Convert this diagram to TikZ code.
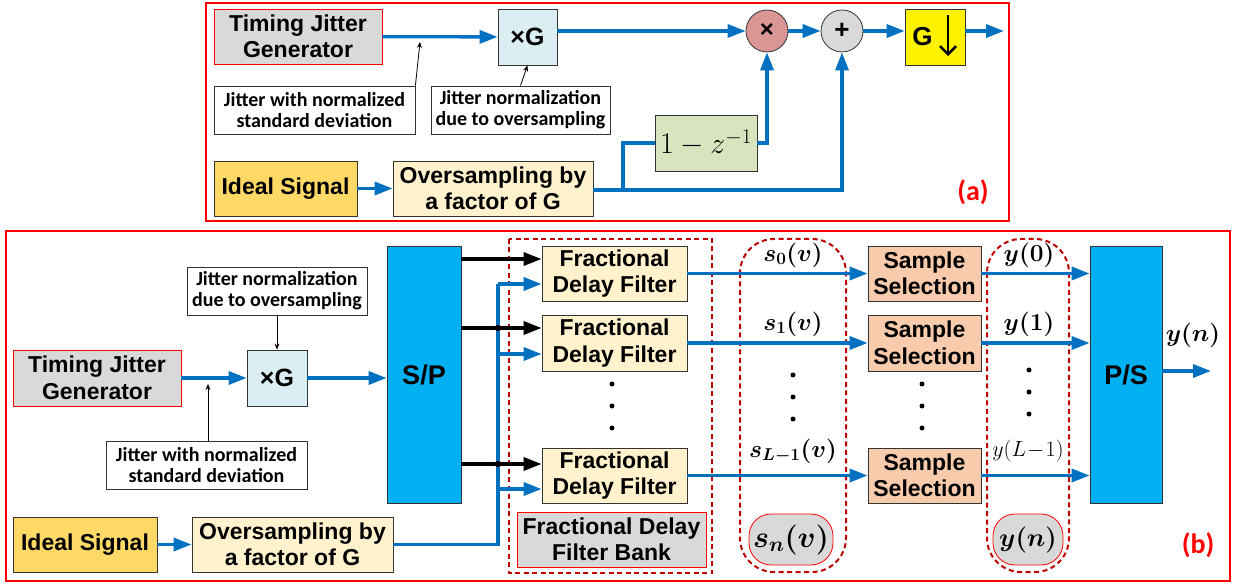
\RequirePackage{fix-cm}
\documentclass[tikz,border=0pt]{standalone}
\usepackage{amsmath,bm}
\usepackage{fontspec}
\setmainfont{Liberation Sans}
\newfontfamily\calibri{Carlito}
\usetikzlibrary{arrows.meta,calc}
\definecolor{lblue}{HTML}{0070C0}
\definecolor{cyanb}{HTML}{00B0F0}
\definecolor{dred}{HTML}{C00000}
\definecolor{gray1}{HTML}{D9D9D9}
\definecolor{xgfill}{HTML}{DAEEF3}
\definecolor{gold}{HTML}{FFD966}
\definecolor{cream}{HTML}{FFF2CC}
\definecolor{zfill}{HTML}{D7E4BD}
\definecolor{rose}{HTML}{D99694}
\definecolor{peach}{HTML}{F8CBAD}
\begin{document}
\begin{tikzpicture}[x=1pt,y=-1pt,
  blk/.style={draw=black!80, line width=0.8pt, inner sep=0pt, align=center,
    font=\bfseries\fontsize{23}{26.5}\selectfont},
  lab/.style={draw=black!80, line width=0.8pt, fill=white, inner sep=0pt, align=center,
    font=\calibri\bfseries\fontsize{20}{21}\selectfont},
  bline/.style={draw=lblue, line width=3.3pt},
  barrow/.style={draw=lblue, line width=3.3pt, -{Triangle[length=18pt,width=13pt]}},
  karrow/.style={draw=black, line width=3.3pt, -{Triangle[length=18pt,width=13pt]}},
  tarrow/.style={draw=black, line width=0.8pt, -{Stealth[length=6pt,width=5pt]}},
  frame/.style={draw=red, line width=2.5pt},
  dbox/.style={draw=dred, line width=2pt, dash pattern=on 5pt off 3.5pt},
  mlab/.style={font=\fontsize{24.5}{26}\selectfont, inner sep=0pt},
  dots/.style={fill=black, circle, inner sep=0pt, minimum size=5pt}
]
\useasboundingbox (0,0) rectangle (1235,585);

% ================= panel (a) =================
\draw[frame] (206,3) rectangle (1009,221);
\node[blk, fill=gray1, draw=red, minimum width=168pt, minimum height=55pt] (tjgA) at (298,36.5) {Timing Jitter\\Generator};
\node[blk, fill=xgfill, minimum width=59pt, minimum height=56pt, font=\bfseries\fontsize{25}{28}\selectfont] (xgA) at (527.5,37) {×G};
\node[lab, minimum width=201pt, minimum height=48pt] (lab1A) at (314.5,110) {Jitter with normalized\\standard deviation};
\node[lab, minimum width=179pt, minimum height=48pt] (lab2A) at (520.5,110) {Jitter normalization\\due to oversampling};
\node[blk, fill=gold, minimum width=143pt, minimum height=55pt] (isA) at (285.5,188.5) {Ideal Signal};
\node[blk, fill=cream, minimum width=200pt, minimum height=55pt] (osA) at (493,188.5) {Oversampling by\\a factor of G};
\node[blk, circle, fill=rose, minimum size=42pt, font=\bfseries\fontsize{24}{26}\selectfont] (mulA) at (767,31) {×};
\node[blk, circle, fill=gray1, minimum size=42pt, font=\bfseries\fontsize{26}{28}\selectfont] (addA) at (842,31) {+};
\node[blk, fill=yellow, minimum width=60pt, minimum height=56pt, text width=54pt, align=left, font=\bfseries\fontsize{26}{28}\selectfont] (dsA) at (935,37) {\,G};
\draw[line width=2.6pt, -{Straight Barb[length=8pt,width=16pt]}] (948,15) -- (948,56);
\node[blk, fill=zfill, minimum width=102pt, minimum height=56pt, font=\fontsize{30}{32}\selectfont] (zA) at (706,143) {$1-z^{-1}$};
\node[font=\calibri\bfseries\fontsize{28}{30}\selectfont, text=red] (la) at (973,192) {(a)};
\coordinate (outA) at (1004,31);
\coordinate (brA) at (623,190);
\coordinate (pt1) at (420,42);

\draw[barrow] (tjgA) -- (xgA);
\draw[barrow] (xgA.east |- mulA) -- (mulA.west);
\draw[barrow] (mulA) -- (addA);
\draw[barrow] (addA) -- (dsA.west |- addA);
\draw[barrow] (dsA.east |- addA) -- (outA);
\draw[barrow] (isA) -- (osA);
\draw[barrow] (osA.east |- brA) -| (addA.south);
\draw[bline] (brA) |- (zA.west);
\draw[barrow] (zA.east) -| (mulA.south);
\draw[tarrow] (lab1A.north east) -- (pt1);
\draw[tarrow] (lab2A.north) -- (xgA.south);

% ================= panel (b) =================
\draw[frame] (6,231) rectangle (1230,581);
\node[lab, minimum width=180pt, minimum height=48pt] (labN) at (277,291) {Jitter normalization\\due to oversampling};
\node[blk, fill=gray1, draw=red, minimum width=168pt, minimum height=56pt] (tjgB) at (97,378) {Timing Jitter\\Generator};
\node[blk, fill=xgfill, minimum width=60pt, minimum height=56pt, font=\bfseries\fontsize{25}{28}\selectfont] (xgB) at (277,378) {×G};
\node[lab, minimum width=201pt, minimum height=48pt] (labJ) at (206.5,465) {Jitter with normalized\\standard deviation};
\node[blk, fill=gold, minimum width=144pt, minimum height=55pt] (isB) at (85,544.5) {Ideal Signal};
\node[blk, fill=cream, minimum width=201pt, minimum height=55pt] (osB) at (292.5,544.5) {Oversampling by\\a factor of G};
\node[blk, fill=cyanb, minimum width=74pt, minimum height=257pt, font=\bfseries\fontsize{27}{30}\selectfont] (sp) at (424,374.5) {S/P};

\draw[dbox] (509,239) rectangle (712,573);
\node[blk, fill=cream, minimum width=145pt, minimum height=55pt] (fdf1) at (614.5,273.5) {Fractional\\Delay Filter};
\node[blk, fill=cream, minimum width=145pt, minimum height=56pt] (fdf2) at (614.5,343) {Fractional\\Delay Filter};
\node[blk, fill=cream, minimum width=145pt, minimum height=55pt] (fdf3) at (614.5,475.5) {Fractional\\Delay Filter};
\node[blk, fill=gray1, draw=red, minimum width=189pt, minimum height=55pt] (bank) at (611.5,539.5) {Fractional Delay\\Filter Bank};
\node[dots] (d1) at (612,384) {};
\node[dots] (d2) at (612,406) {};
\node[dots] (d3) at (612,428) {};

\draw[dbox, rounded corners=34pt] (740,239) rectangle (846,572);
\node[mlab] (s0) at (793,255) {$\bm{s_0(v)}$};
\node[mlab] (s1) at (793,324) {$\bm{s_1(v)}$};
\node[dots] (e1) at (793,375) {};
\node[dots] (e2) at (793,397) {};
\node[dots] (e3) at (793,419) {};
\node[mlab] (sL) at (793,451) {$\bm{s_{L-1}(v)}$};
\node[draw=red, line width=0.8pt, fill=gray1, rounded corners=22pt, minimum width=84pt, minimum height=51pt, inner sep=0pt, font=\fontsize{30}{32}\selectfont] (sn) at (791,539.5) {$\bm{s_n(v)}$};

\node[blk, fill=peach, minimum width=113pt, minimum height=55pt] (ss1) at (924.5,273.5) {Sample\\Selection};
\node[blk, fill=peach, minimum width=113pt, minimum height=56pt] (ss2) at (924.5,343) {Sample\\Selection};
\node[blk, fill=peach, minimum width=113pt, minimum height=55pt] (ss3) at (924.5,475.5) {Sample\\Selection};
\node[dots] (f1) at (922,384) {};
\node[dots] (f2) at (922,406) {};
\node[dots] (f3) at (922,428) {};

\draw[dbox, rounded corners=34pt] (987,239) rectangle (1069,572);
\node[mlab] (y0) at (1029,255) {$\bm{y(0)}$};
\node[mlab] (y1) at (1029,324) {$\bm{y(1)}$};
\node[dots] (g1) at (1029,370) {};
\node[dots] (g2) at (1029,392) {};
\node[dots] (g3) at (1029,414) {};
\node[mlab, font=\fontsize{22}{24}\selectfont] (yL) at (1028,451) {$y(L\!-\!1)$};
\node[draw=red, line width=0.8pt, fill=gray1, rounded corners=22pt, minimum width=70pt, minimum height=51pt, inner sep=0pt, font=\fontsize{26}{28}\selectfont] (ynb) at (1028,539.5) {$\bm{y(n)}$};

\node[blk, fill=cyanb, minimum width=72pt, minimum height=257pt, font=\bfseries\fontsize{27}{30}\selectfont] (ps) at (1126,374.5) {P/S};
\node[mlab] (yout) at (1193,335) {$\bm{y(n)}$};
\node[font=\calibri\bfseries\fontsize{28}{30}\selectfont, text=red] (lb) at (1198,545) {(b)};

\coordinate (vb0) at (498,544.5);
\coordinate (vb1) at (498,284);
\coordinate (vb2) at (498,354);
\coordinate (vb3) at (498,489);
\coordinate (kb1) at (461,259);
\coordinate (kb2) at (461,328);
\coordinate (kb3) at (461,464);
\coordinate (outB) at (1211,371);
\coordinate (ptJ) at (208,384);

\draw[barrow] (tjgB) -- (xgB);
\draw[barrow] (xgB) -- (sp.west |- xgB);
\draw[tarrow] (labN.south -| xgB) -- (xgB.north);
\draw[tarrow] (labJ.north -| ptJ) -- (ptJ);
\draw[barrow] (isB) -- (osB);
\draw[bline] (osB.east) -- (vb0) -- (vb1);
\draw[barrow] (vb1) -- (fdf1.west |- vb1);
\draw[barrow] (vb2) -- (fdf2.west |- vb2);
\draw[barrow] (vb3) -- (fdf3.west |- vb3);
\draw[karrow] (kb1) -- (fdf1.west |- kb1);
\draw[karrow] (kb2) -- (fdf2.west |- kb2);
\draw[karrow] (kb3) -- (fdf3.west |- kb3);
\fill (vb0 |- kb2) circle (3.2pt);
\fill (vb0 |- kb3) circle (3.2pt);
\draw[barrow] (fdf1) -- (ss1);
\draw[barrow] (fdf2) -- (ss2);
\draw[barrow] (fdf3) -- (ss3);
\draw[barrow] (ss1) -- (ps.west |- ss1);
\draw[barrow] (ss2) -- (ps.west |- ss2);
\draw[barrow] (ss3) -- (ps.west |- ss3);
\draw[barrow] (ps.east |- outB) -- (outB);
\end{tikzpicture}
\end{document}
